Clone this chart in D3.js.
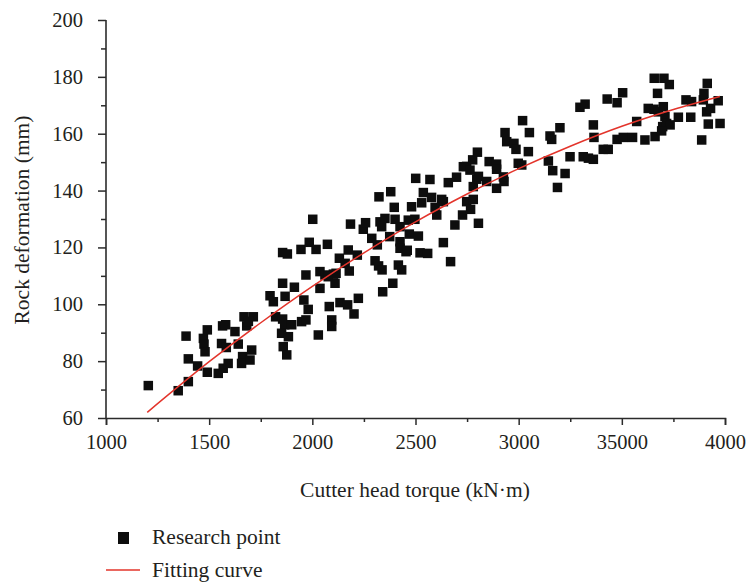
<!DOCTYPE html>
<html><head><meta charset="utf-8">
<script src="https://cdn.jsdelivr.net/npm/d3@7/dist/d3.min.js"></script>
<style>
html,body{margin:0;padding:0;background:#fff;}
svg text{font-family:"Liberation Serif","Times New Roman",serif;fill:#231f20;}
</style></head>
<body><svg id="c" width="747" height="582"></svg>
<script>
// ---- data ----
const torque = [1205,1350,1399,1388,1399,1444,1491,1472,1475,1480,1491,1544,1568,1592,1565,1580,1560,1583,1625,1641,1662,1657,1706,1698,1669,1714,1682,1690,
1795,1811,1822,1856,1868,1856,1879,1856,1866,1900,1851,1884,1859,1876,1948,1969,1913,1945,1985,2018,2002,1969,1959,1980,2037,2037,2029,
2073,2061,2102,2110,2115,2077,2082,2094,2094,2134,2171,2202,2223,2174,2131,2159,2179,2218,2185,2247,2258,2304,2321,2338,2341,2390,2288,2315,
2323,2380,2328,2352,2336,2401,2397,2425,2375,2425,2425,2417,2433,2454,2465,2497,2481,2470,2514,2460,2522,2559,2501,2570,2538,2530,2578,2595,
2627,2635,2603,2659,2699,2635,2670,2691,2728,2748,2767,2780,2805,2748,2777,2800,2732,2764,2780,2797,2805,2857,2893,2893,2845,2893,2929,2926,
2934,2942,2977,2987,2998,3019,3052,3047,3015,3152,3160,3200,3144,3165,3188,3225,3249,3297,3322,3313,3338,3362,3362,3365,3410,3434,3429,3477,
3504,3477,3507,3552,3572,3612,3628,3656,3661,3657,3704,3730,3673,3677,3701,3709,3698,3717,3734,3693,3774,3811,3838,3834,3887,3895,3898,3914,
3911,3930,3919,3967,3976];
const deformation = [71.4,69.6,72.8,88.8,80.8,78.3,76.1,88.0,86.0,83.3,91.0,75.7,77.5,79.2,92.4,92.8,86.2,84.8,90.4,86.0,81.6,79.2,83.9,80.4,95.6,95.6,92.4,94.0,
103.0,100.9,95.6,107.4,102.8,118.2,117.7,94.8,92.8,92.8,89.8,88.6,85.1,82.2,93.9,94.5,106.0,119.3,121.8,119.3,129.9,110.3,101.5,98.2,111.5,105.6,89.2,
121.1,110.3,110.6,107.4,110.9,109.7,99.2,94.5,92.2,100.6,99.8,96.6,102.1,119.1,116.2,114.4,111.7,117.3,128.2,126.4,128.7,115.3,113.5,112.1,104.4,107.4,123.2,120.9,
137.8,139.6,129.0,130.2,127.3,129.9,134.1,127.3,123.8,122.0,119.7,113.8,112.1,118.5,129.6,129.9,134.3,124.7,124.0,119.0,118.1,117.9,144.3,143.9,139.3,135.7,137.6,134.1,
136.9,136.1,131.4,142.8,144.7,121.7,115.0,127.9,131.4,136.1,133.4,136.9,128.5,148.5,150.8,153.5,148.4,147.2,141.4,144.0,145.0,150.2,149.3,147.5,143.2,140.8,143.2,144.8,
160.4,157.2,156.6,154.5,149.6,164.6,160.4,153.7,149.0,159.2,158.0,162.1,150.4,147.0,141.1,146.0,151.9,169.3,170.4,151.9,151.4,151.0,163.1,158.7,154.5,154.5,172.2,170.9,
174.4,158.0,158.7,158.7,164.3,157.8,168.9,168.6,159.0,179.5,179.5,177.3,174.2,167.7,169.5,166.0,162.5,163.6,163.1,161.0,165.8,171.9,171.3,165.8,157.8,171.9,174.2,177.7,
167.7,168.9,163.4,171.6,163.6];
const fitTorque = [1200,1500,1750,2000,2250,2500,2750,3000,3250,3500,3750,3975];
const fitDeformation = [62.0,79.8,93.5,106.3,118.1,129.0,138.8,147.7,155.6,162.6,168.5,173.1];
const xTicks = [1000,1500,2000,2500,3000,3500,4000];
const xTickLabels = ["1000","1500","2000","2500","3000","35000","4000"];
const yTicks = [60,80,100,120,140,160,180,200];
const xTitle = "Cutter head torque (kN\u00B7m)";
const yTitle = "Rock deformation (mm)";
const legendLabels = ["Research point","Fitting curve"];

// ---- chart ----
const svg = d3.select("#c");
const L=106, R=725, T=20, B=418;
const x = d3.scaleLinear().domain([1000,4000]).range([L,R]);
const y = d3.scaleLinear().domain([60,200]).range([B,T]);
const axisColor = "#2b2b2b";

const xMinor = d3.range(1250,4000,500);
const yMinor = d3.range(70,200,20);
svg.append("g").attr("transform",`translate(0,${B})`)
  .call(d3.axisBottom(x).tickValues(xTicks).tickFormat((d,i)=>xTickLabels[i]).tickSize(7).tickPadding(9));
svg.append("g").attr("transform",`translate(0,${B})`)
  .call(d3.axisBottom(x).tickValues(xMinor).tickFormat("").tickSize(4)).select(".domain").remove();
const gy = svg.append("g").attr("transform",`translate(${L},0)`)
  .call(d3.axisLeft(y).tickValues(yTicks).tickSize(8).tickPadding(15));
svg.append("g").attr("transform",`translate(${L},0)`)
  .call(d3.axisLeft(y).tickValues(yMinor).tickFormat("").tickSize(5)).select(".domain").remove();
svg.selectAll(".domain").attr("stroke",axisColor).attr("stroke-width",1.6);
svg.selectAll(".tick line").attr("stroke",axisColor).attr("stroke-width",1.5);
svg.selectAll(".tick text").style("font-family",'"Liberation Serif",serif').style("font-size","20.5px").attr("fill","#231f20");
gy.selectAll(".domain").attr("d",`M0,${T}V${B}`);

// points
const pts = torque.map((t,i)=>({t, d:deformation[i]}));
const s = 9.5;
svg.append("g").selectAll("rect").data(pts).join("rect")
  .attr("x",p=>x(p.t)-s/2).attr("y",p=>y(p.d)-s/2)
  .attr("width",s).attr("height",s).attr("fill","#0d0d0d");

// fit curve
const line = d3.line().x(d=>x(d[0])).y(d=>y(d[1])).curve(d3.curveMonotoneX);
svg.append("path").datum(fitTorque.map((t,i)=>[t,fitDeformation[i]]))
  .attr("d",line).attr("fill","none").attr("stroke","#e3342b").attr("stroke-width",1.5);

// titles
svg.append("text").attr("x",415).attr("y",497).attr("text-anchor","middle")
  .style("font-size","21.5px").text(xTitle);
svg.append("text").attr("transform","translate(29,220) rotate(-90)").attr("text-anchor","middle")
  .style("font-size","21.5px").text(yTitle);

// legend
svg.append("rect").attr("x",118).attr("y",532).attr("width",11).attr("height",12).attr("fill","#0d0d0d");
svg.append("text").attr("x",152).attr("y",544).style("font-size","21.5px").text(legendLabels[0]);
svg.append("line").attr("x1",106).attr("x2",140).attr("y1",570).attr("y2",570).attr("stroke","#e3342b").attr("stroke-width",1.5);
svg.append("text").attr("x",152).attr("y",577).style("font-size","21.5px").text(legendLabels[1]);
</script></body></html>
